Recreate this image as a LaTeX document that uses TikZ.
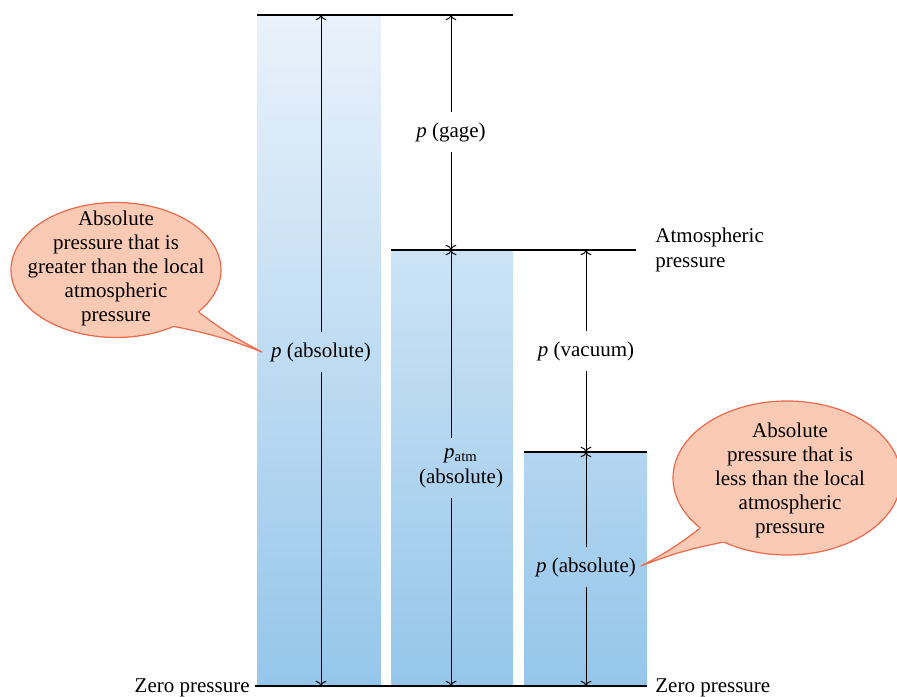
\documentclass[tikz,border=0pt]{standalone}
\usepackage{fontspec}
\setmainfont{Liberation Serif}
\usetikzlibrary{shapes.geometric,arrows.meta}
\definecolor{cTop}{RGB}{234,242,251}
\definecolor{cAtm}{RGB}{204,227,245}
\definecolor{cVac}{RGB}{179,213,240}
\definecolor{cBot}{RGB}{149,198,234}
\definecolor{bfill}{RGB}{250,202,181}
\definecolor{bline}{RGB}{238,104,74}
\tikzset{
  lvl/.style={line width=0.65pt},
  dim/.style={line width=0.5pt,-{To[length=2.6pt,width=5.4pt]}},
  lab/.style={font=\fontsize{10.5}{12.5}\selectfont,inner sep=2pt},
  btext/.style={align=center,inner sep=0pt,font=\fontsize{10.5}{12}\selectfont},
  bubble/.style={ellipse,fill=bfill,draw=bline,line width=0.6pt,inner sep=0pt},
  tail/.style={draw=bline,line width=0.6pt,line join=round},
}
\begin{document}
\begin{tikzpicture}[x=0.5pt,y=0.5pt]
\useasboundingbox (0,0) rectangle (897,696);
% bars
\shade[top color=cTop,bottom color=cBot] (257,681) rectangle (381,10);
\shade[top color=cAtm,bottom color=cBot] (391,446) rectangle (513,10);
\shade[top color=cVac,bottom color=cBot] (524,244) rectangle (647,10);
% level lines
\coordinate (topL) at (257,681); \coordinate (topR) at (513,681);
\coordinate (atmL) at (391,446); \coordinate (atmR) at (636,446);
\coordinate (vacL) at (524,244); \coordinate (vacR) at (647,244);
\coordinate (zeroL) at (255,10); \coordinate (zeroR) at (647,10);
\draw[lvl] (topL) -- (topR);
\draw[lvl] (atmL) -- (atmR);
\draw[lvl] (vacL) -- (vacR);
\draw[lvl] (zeroL) -- (zeroR);
% labels
\node[lab,anchor=east] (zl) at (254,8) {Zero pressure};
\node[lab,anchor=west] (zr) at (651,8) {Zero pressure};
\node[lab,anchor=west,align=left] (atm) at (651,446) {Atmospheric\\pressure};
% arrow endpoints
\coordinate (a1t) at (321,681); \coordinate (a1b) at (321,10);
\coordinate (a2t) at (451,681); \coordinate (a2m) at (451,446); \coordinate (a2b) at (451,10);
\coordinate (a3t) at (586,446); \coordinate (a3m) at (586,244); \coordinate (a3b) at (586,10);
% dimension labels
\node[lab,inner sep=5pt] (pabs1) at (321,344) {\textit{p} (absolute)};
\node[lab,inner sep=5pt] (pgage) at (451,564) {\textit{p} (gage)};
\node[lab,inner sep=5pt,align=center] (patm) at (461,228) {\textit{p}\textsubscript{atm}\\(absolute)};
\node[lab,inner sep=5pt] (pvac) at (586,345) {\textit{p} (vacuum)};
\node[lab,inner sep=5pt] (pabs2) at (586,129) {\textit{p} (absolute)};
% dimension arrows
\draw[dim] (pabs1) -- (a1t);
\draw[dim] (pabs1) -- (a1b);
\draw[dim] (pgage) -- (a2t);
\draw[dim] (pgage) -- (a2m);
\draw[dim] (a2b |- patm.north) -- (a2m);
\draw[dim] (a2b |- patm.south) -- (a2b);
\draw[dim] (pvac) -- (a3t);
\draw[dim] (pvac) -- (a3m);
\draw[dim] (pabs2) -- (a3m);
\draw[dim] (pabs2) -- (a3b);
% bubbles
\node[bubble,minimum width=105pt,minimum height=67.5pt] (b1) at (116,426) {};
\coordinate (tip1) at (262,344);
\fill[bfill] (b1.-27) to[bend right=5] (tip1) to[bend right=5] (b1.-44) -- (b1.center) -- cycle;
\draw[tail] (b1.-27) to[bend right=5] (tip1) to[bend right=5] (b1.-44);
\node[btext] (t1) at (116,428) {Absolute\\pressure that is\\greater than the local\\atmospheric\\pressure};
\node[bubble,minimum width=114pt,minimum height=77pt] (b2) at (787,218) {};
\coordinate (tip2) at (641,130);
\fill[bfill] (b2.210) to[bend left=5] (tip2) to[bend left=5] (b2.225) -- (b2.center) -- cycle;
\draw[tail] (b2.210) to[bend left=5] (tip2) to[bend left=5] (b2.225);
\node[btext] (t2) at (790,216) {Absolute\\pressure that is\\less than the local\\atmospheric\\pressure};
\end{tikzpicture}
\end{document}
